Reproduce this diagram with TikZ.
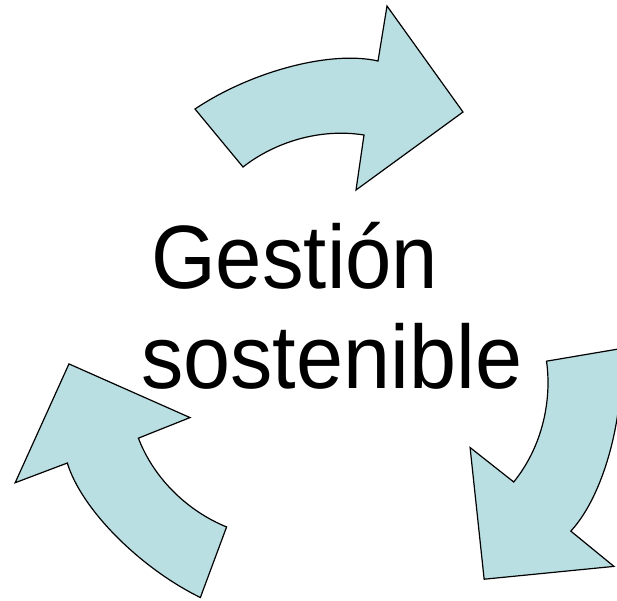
\documentclass[tikz,border=0pt]{standalone}
\usepackage{fontspec}
\usepackage{graphicx}
\setmainfont{Liberation Sans}
\definecolor{arrowfill}{HTML}{B9DFE3}
\tikzset{
  cyclearrow/.style={fill=arrowfill, draw=black, line width=1.2pt, line join=miter},
  bigtext/.style={inner sep=0pt, anchor=base west, font=\fontsize{90}{100}\selectfont}
}
\begin{document}
\begin{tikzpicture}[x=1pt,y=-1pt]
\useasboundingbox (0,0) rectangle (617,600);
\clip (0,0) rectangle (617,600);
\coordinate (c) at (338.7,351.7);
\foreach \ang in {0,-120,-240}{
  \begin{scope}[rotate around={\ang:(c)}]
    \draw[cyclearrow] (195,109) .. controls (250,72) and (330,50) .. (378,61)
      -- (387,6) -- (463,112) -- (356,190) -- (364,135)
      .. controls (320,128) and (275,142) .. (243,167) -- cycle;
  \end{scope}
}
\node[bigtext] (l1) at (151,288) {\scalebox{0.925}[1]{Gestión}};
\node[bigtext] (l2) at (141,388) {\scalebox{0.94}[1]{sostenible}};
\end{tikzpicture}
\end{document}
